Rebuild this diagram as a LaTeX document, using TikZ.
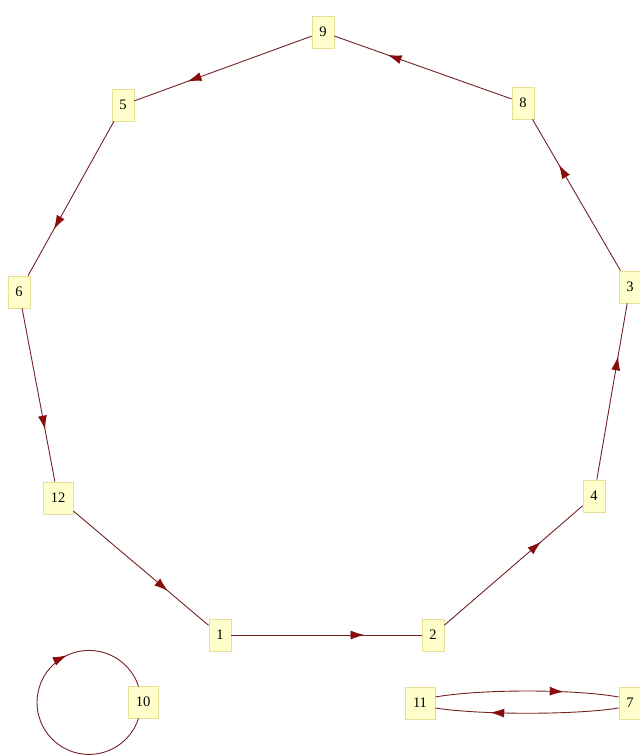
\documentclass[tikz,border=0pt]{standalone}
\usepackage{fontspec}
\setmainfont{Liberation Serif}
\usetikzlibrary{arrows.meta,decorations.markings}
\definecolor{nodefill}{RGB}{255,255,204}
\definecolor{nodedraw}{RGB}{232,222,150}
\definecolor{edgecol}{RGB}{115,35,35}
\definecolor{tipcol}{RGB}{135,12,12}
\tikzset{
  vbox/.style={rectangle, draw=nodedraw, fill=nodefill, line width=0.8pt,
    minimum width=22pt, minimum height=32pt, inner sep=0pt,
    font=\fontsize{14.5}{14.5}\selectfont},
  wbox/.style={vbox, minimum width=30pt},
  edge/.style={draw=edgecol, line width=0.9pt,
    postaction={decorate},
    decoration={markings, mark=at position 0.7 with
      {\arrow[tipcol]{Latex[length=14pt,width=9pt]}}}}
}
\begin{document}
\begin{tikzpicture}[x=1pt,y=-1pt]
\useasboundingbox[fill=white] (0,0) rectangle (640,756);
\node[vbox] (n9) at (323,32) {9};
\node[vbox] (n5) at (123,105) {5};
\node[vbox] (n8) at (523,103) {8};
\node[vbox] (n6) at (19,292) {6};
\node[vbox] (n3) at (630,287) {3};
\node[wbox] (n12) at (58,498) {12};
\node[vbox] (n4) at (594,496) {4};
\node[vbox] (n1) at (220,635) {1};
\node[vbox] (n2) at (433,635) {2};
\node[wbox] (n10) at (143,702) {10};
\node[wbox] (n11) at (420,703) {11};
\node[vbox] (n7) at (630,703) {7};

\path[edge] (n9) -- (n5);
\path[edge] (n8) -- (n9);
\path[edge] (n5) -- (n6);
\path[edge] (n6) -- (n12);
\path[edge] (n12) -- (n1);
\path[edge] (n1) -- (n2);
\path[edge] (n2) -- (n4);
\path[edge] (n4) -- (n3);
\path[edge] (n3) -- (n8);
\path[edge] ([xshift=-4.5pt]n10.south) arc[start angle=17.9, end angle=342.1, radius=52];
\path[edge] ([yshift=6pt]n11.east) .. controls (480,689) and (575,689) .. ([yshift=6pt]n7.west);
\path[edge] ([yshift=-5pt]n7.west) .. controls (575,715) and (480,715) .. ([yshift=-5pt]n11.east);
\end{tikzpicture}
\end{document}
